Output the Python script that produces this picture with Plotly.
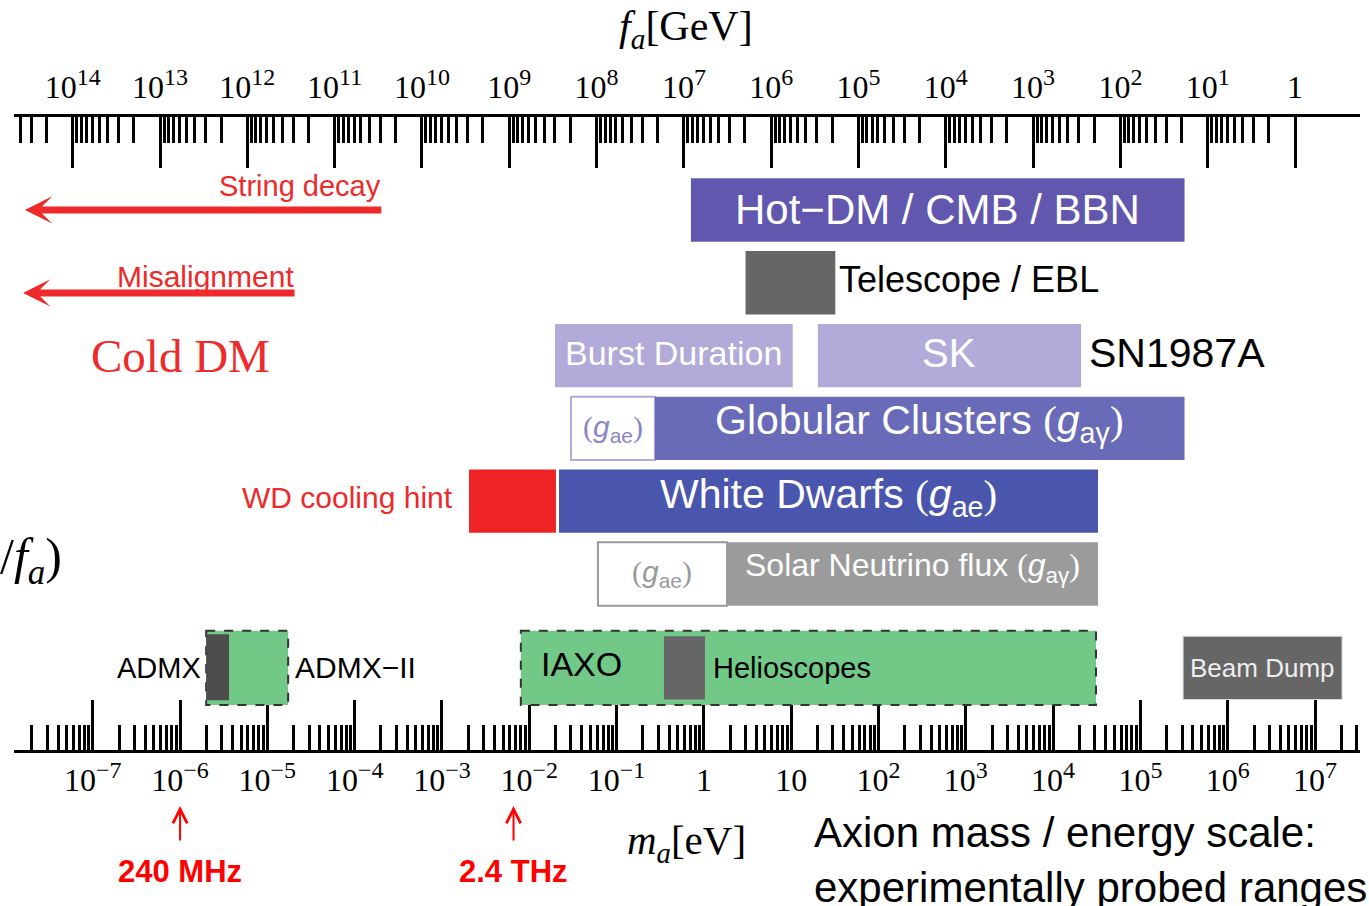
import math
import plotly.graph_objects as go

# ---------------- data: axion mass ranges in eV ----------------
hot_dm = [0.71, 3.2e5]
telescope_ebl = [3.0, 32.0]
burst_duration = [0.0197, 10.4]
sk = [20.2, 2.09e4]
gc_gae = [0.030, 0.275]
gc_gagamma = [0.275, 3.2e5]
wd_hint = [0.00204, 0.0202]
white_dwarfs = [0.0219, 3.27e4]
solar_gae = [0.0612, 1.84]
solar_gagamma = [1.84, 3.27e4]
admx = [1.99e-6, 3.64e-6]
admx_ii = [1.99e-6, 1.73e-5]
iaxo = [8.0e-3, 3.1e4]
cast = [0.349, 1.03]
beam_dump = [3.08e5, 2.04e7]
string_decay = [1.67e-8, 2.1e-4]   # arrow tip, arrow tail
misalignment = [1.59e-8, 2.13e-5]  # arrow tip, arrow tail
freq_marks_ev = [1.0e-6, 6.6e-3]
freq_labels = ["240 MHz", "2.4 THz"]

# axis ticks
ma_tickvals = [1e-7, 1e-6, 1e-5, 1e-4, 1e-3, 1e-2, 1e-1, 1, 10, 1e2, 1e3, 1e4, 1e5, 1e6, 1e7]
ma_exponents = ["−7", "−6", "−5", "−4", "−3", "−2", "−1", None, None, "2", "3", "4", "5", "6", "7"]
fa_tickvals = [1e14, 1e13, 1e12, 1e11, 1e10, 1e9, 1e8, 1e7, 1e6, 1e5, 1e4, 1e3, 1e2, 1e1, 1]
fa_exponents = ["14", "13", "12", "11", "10", "9", "8", "7", "6", "5", "4", "3", "2", "1", None]

# m_a * f_a in eV*GeV
MA_FA = 5.9e6

# ---------------- styling ----------------
W, H = 1369, 906
ML, MR, MT, MB = 14, 9, 117, 156
SANS = "Liberation Sans"
SERIF = "Liberation Serif"
RED = "#EE2A2A"
X_RANGE = [-7.902, 7.515]            # log10(m_a / eV)
Y_RANGE = [8.418, -0.277]            # reversed: first row on top
ROWS = {"hot": 1, "tel": 2, "sn": 3, "gc": 4, "wd": 5, "solar": 6, "exp": 7.29}
HALF = 0.435


def lg(v):
    return math.log10(v)


def sup_label(exps, size):
    out = []
    for e in exps:
        if e is None:
            out.append(None)
        else:
            out.append(f"10<sup><span style='font-size:{size}px'>{e}</span></sup>")
    return out


ma_ticktext = [t if t is not None else ("1" if v == 1 else "10")
               for t, v in zip(sup_label(ma_exponents, 24), ma_tickvals)]
fa_ticktext = [t if t is not None else "1" for t in sup_label(fa_exponents, 24)]


def minor_vals(lo_exp, hi_exp):
    return [d * 10.0 ** n for n in range(lo_exp, hi_exp + 1) for d in range(2, 10)]


fig = go.Figure()
# empty traces so both x axes are bound to the subplot
fig.add_trace(go.Scatter(x=[], y=[], xaxis="x", yaxis="y", showlegend=False))
fig.add_trace(go.Scatter(x=[], y=[], xaxis="x2", yaxis="y", showlegend=False))

shapes = []


def rect(rng, row, fill, half=HALF, line_color=None, line_width=0, dash=None, dy=0.0):
    yc = ROWS[row] + dy
    line = dict(width=line_width, color=line_color or fill)
    if dash:
        line["dash"] = dash
    shapes.append(dict(type="rect", xref="x", yref="y",
                       x0=rng[0], x1=rng[1], y0=yc - half, y1=yc + half,
                       fillcolor=fill, line=line, layer="above"))


rect(hot_dm, "hot", "#6157AE")
rect(telescope_ebl, "tel", "#666666")
rect(burst_duration, "sn", "#B2AAD8")
rect(sk, "sn", "#B2AAD8")
rect(gc_gae, "gc", "white", line_color="#B2AAD8", line_width=2)
rect(gc_gagamma, "gc", "#696AB8")
rect(wd_hint, "wd", "#EE2424")
rect(white_dwarfs, "wd", "#4A55AD")
rect(solar_gae, "solar", "white", line_color="#9B9B9B", line_width=2)
rect(solar_gagamma, "solar", "#9B9B9B")
rect(admx_ii, "exp", "#72C887", half=0.51, line_color="#333333", line_width=2, dash="dash")
rect(admx, "exp", "#4D4D4D", half=0.453, dy=-0.01)
rect(iaxo, "exp", "#72C887", half=0.51, line_color="#333333", line_width=2, dash="dash")
rect(cast, "exp", "#666666")
rect(beam_dump, "exp", "#666666", line_color="#DDDDDD", line_width=1)

ann = []


def text(x, y, s, size, color, family=SANS, anchor="center", xshift=0, yshift=0, xref="x", yref="y"):
    ann.append(dict(x=x, y=y, xref=xref, yref=yref, text=s, showarrow=False,
                    xanchor=anchor, yanchor="middle", xshift=xshift, yshift=yshift,
                    font=dict(family=family, size=size, color=color)))


def mid(rng):
    return (lg(rng[0]) + lg(rng[1])) / 2


def g_sub(sub):
    return (f"<span style='font-family:{SERIF}'>(</span><i>g</i>"
            f"<sub>{sub}</sub><span style='font-family:{SERIF}'>)</span>")


text(mid(hot_dm), ROWS["hot"], "Hot−DM / CMB / BBN", 42, "white")
text(lg(telescope_ebl[1]), ROWS["tel"], "Telescope / EBL", 36, "black", anchor="left", xshift=2, yshift=3)
text(mid(burst_duration), ROWS["sn"], "Burst Duration", 34, "white", yshift=3)
text(mid(sk), ROWS["sn"], "SK", 40, "white", yshift=3)
text(lg(sk[1]), ROWS["sn"], "SN1987A", 41, "black", anchor="left", xshift=6, yshift=3)
text(mid(gc_gae), ROWS["gc"], g_sub("ae"), 30, "#8C84C6")
text(mid(gc_gagamma), ROWS["gc"], "Globular Clusters " + g_sub("aγ"), 41, "white", yshift=5)
text(lg(wd_hint[0]), ROWS["wd"], "WD cooling hint", 30, RED, anchor="right", xshift=-14, yshift=4)
text(mid(white_dwarfs), ROWS["wd"], "White Dwarfs " + g_sub("ae"), 41, "white", yshift=4)
text(mid(solar_gae), ROWS["solar"], g_sub("ae"), 30, "#999999")
text(mid(solar_gagamma), ROWS["solar"], "Solar Neutrino flux " + g_sub("aγ"), 32, "white", yshift=6)
text(lg(admx[0]), ROWS["exp"], "ADMX", 29, "black", anchor="right", xshift=-3)
text(lg(admx_ii[1]), ROWS["exp"], "ADMX−II", 30, "black", anchor="left", xshift=5)
text(lg(iaxo[0]), ROWS["exp"], "IAXO", 34, "black", anchor="left", xshift=18, yshift=4)
text(lg(cast[1]), ROWS["exp"], "Helioscopes", 29, "black", anchor="left", xshift=6)
text(mid(beam_dump), ROWS["exp"], "Beam Dump", 26, "#EEEEEE")

# cosmological production arrows
for rng, label, row, ty, size in [(string_decay, "String decay", 1.0, 0.67, 29),
                                  (misalignment, "Misalignment", 2.14, 1.907, 30)]:
    ann.append(dict(x=lg(rng[0]), y=row, ax=lg(rng[1]), ay=row, axref="x", ayref="y",
                    xref="x", yref="y", text="", showarrow=True, arrowhead=3,
                    arrowsize=0.65, arrowwidth=7, arrowcolor=RED))
    text(lg(rng[1]), ty, label, size, RED, anchor="right")
text(-5.99, 3.0, "Cold DM", 47, RED, family=SERIF)

# frequency markers under the mass axis
py = lambda px: -(px - (H - MB)) / (H - MT - MB)
for v, lab in zip(freq_marks_ev, freq_labels):
    ann.append(dict(x=lg(v), y=py(806), xref="x", yref="paper", ax=0, ay=36,
                    text="", showarrow=True, arrowhead=5, arrowsize=1.4,
                    arrowwidth=2, arrowcolor="#FF0000"))
    text(lg(v), py(871), f"<b>{lab}</b>", 31, "#FF0000", yref="paper")

# axis titles and captions
px_x = lambda px: (px - ML) / (W - ML - MR)
text(px_x(686), py(29), "<i>f</i><sub><i>a</i></sub>[GeV]", 42, "black", family=SERIF, yref="paper", xref="paper")
text(px_x(686), py(843), "<i>m</i><sub><i>a</i></sub>[eV]", 41, "black", family=SERIF, yref="paper", xref="paper")
ann.append(dict(x=px_x(812), y=py(860), xref="paper", yref="paper", showarrow=False,
                xanchor="left", yanchor="middle", align="left",
                text="Axion mass / energy scale:<br>experimentally probed ranges",
                font=dict(family=SANS, size=42, color="black")))
ann.append(dict(x=px_x(64), y=py(560), xref="paper", yref="paper", showarrow=False,
                xanchor="right", yanchor="middle",
                text="/<i>f</i><sub><i>a</i></sub>)",
                font=dict(family=SERIF, size=50, color="black")))

fa_log_mafa = lg(MA_FA)
tick_font = dict(family=SERIF, size=32, color="black")

fig.update_layout(
    width=W, height=H,
    margin=dict(l=ML, r=MR, t=MT, b=MB),
    paper_bgcolor="white", plot_bgcolor="white",
    showlegend=False,
    shapes=shapes, annotations=ann,
    xaxis=dict(type="log", range=X_RANGE, showgrid=False, zeroline=False,
               showline=True, linecolor="black", linewidth=3,
               ticks="inside", ticklen=50, tickwidth=2.5, tickcolor="black",
               tickmode="array", tickvals=ma_tickvals, ticktext=ma_ticktext,
               tickfont=tick_font, ticklabelstandoff=0,
               minor=dict(ticks="inside", ticklen=25, tickwidth=2.5, tickcolor="black",
                          tickmode="array", tickvals=minor_vals(-9, 7), showgrid=False)),
    xaxis2=dict(type="log", overlaying="x", side="top", anchor="y",
                range=[fa_log_mafa - X_RANGE[0], fa_log_mafa - X_RANGE[1]],
                showgrid=False, zeroline=False,
                showline=True, linecolor="black", linewidth=3,
                ticks="inside", ticklen=51, tickwidth=2.5, tickcolor="black",
                tickmode="array", tickvals=fa_tickvals, ticktext=fa_ticktext,
                tickfont=tick_font, ticklabelstandoff=3,
                minor=dict(ticks="inside", ticklen=26, tickwidth=2.5, tickcolor="black",
                           tickmode="array", tickvals=minor_vals(0, 14), showgrid=False)),
    yaxis=dict(range=Y_RANGE, visible=False, fixedrange=True),
)

fig.write_html("out.html")
